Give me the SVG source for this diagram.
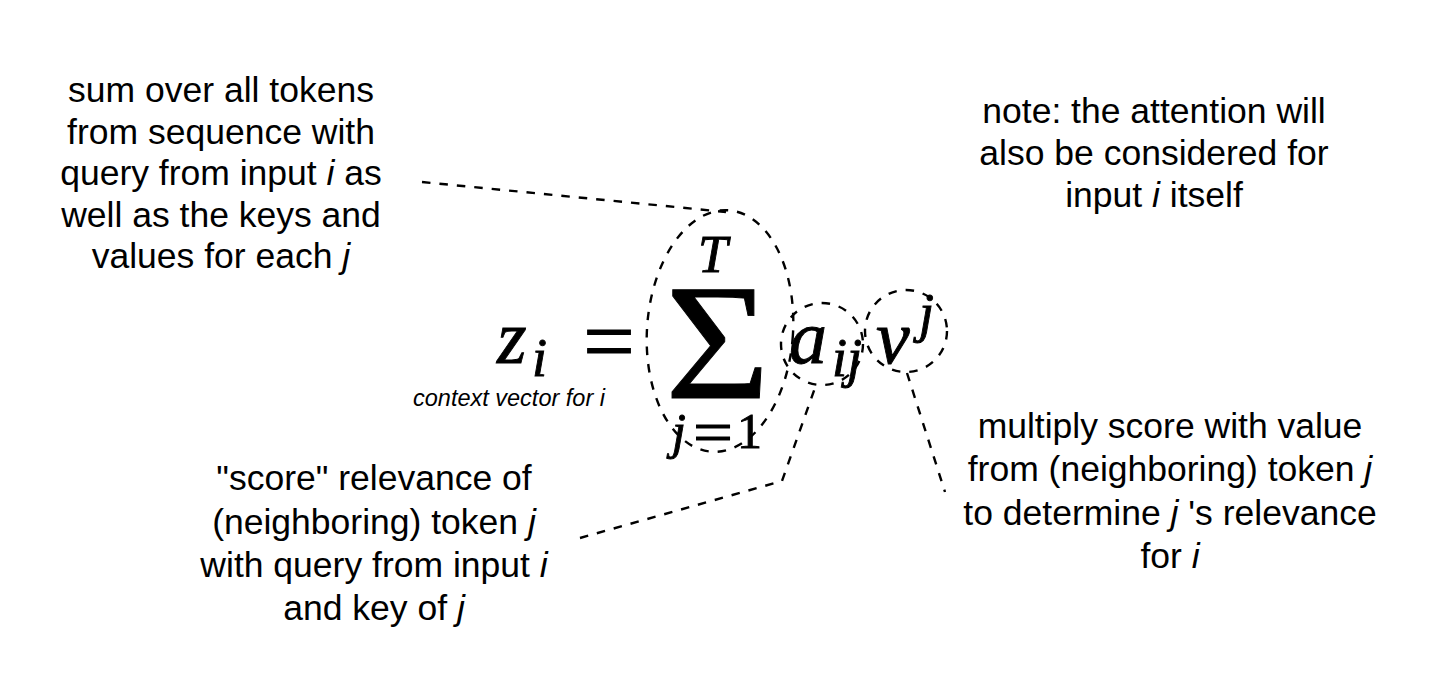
<svg xmlns="http://www.w3.org/2000/svg" width="1440" height="693" viewBox="0 0 1440 693">
<style>
.t{font-family:"Liberation Sans",Arial,Helvetica,sans-serif;font-size:35.5px;fill:#000;text-anchor:middle}
.it{font-style:italic}
.m{font-family:"Liberation Serif","Times New Roman",serif;fill:#000;stroke:#000;stroke-width:0.9}
.mi{font-family:"Liberation Serif","Times New Roman",serif;font-style:italic;fill:#000;stroke:#000;stroke-width:0.9}
.d{fill:none;stroke:#000;stroke-width:2.4;stroke-dasharray:8.5 9}
</style>
<rect width="1440" height="693" fill="#fff"/>
<g id="formula">
<text class="mi" x="497" y="363" font-size="76">z</text>
<text class="mi" x="532" y="376" font-size="54">i</text>
<text class="m" x="583" y="372" font-size="92" textLength="52" lengthAdjust="spacingAndGlyphs">=</text>
<text class="m" x="665" y="398" font-size="166" textLength="105" lengthAdjust="spacingAndGlyphs">Σ</text>
<text class="mi" x="698" y="272" font-size="53">T</text>
<text class="mi" x="672" y="448" font-size="50">j</text>
<text class="m" x="693" y="452" font-size="60" textLength="40" lengthAdjust="spacingAndGlyphs">=</text>
<text class="m" x="737" y="448" font-size="50">1</text>
<text class="mi" x="789" y="363" font-size="76">a</text>
<text class="mi" x="832" y="376" font-size="54">i</text>
<text class="mi" x="847" y="376" font-size="54">j</text>
<text class="mi" x="876" y="363" font-size="76">v</text>
<text class="mi" x="919" y="331" font-size="54">j</text>
<text class="t it" x="413" y="406" style="text-anchor:start;font-size:23.5px">context vector for i</text>
</g>
<g id="sum-ellipse"><ellipse class="d" cx="720" cy="331" rx="73" ry="121" transform="rotate(4 720 331)"/></g>
<g id="a-circle"><circle class="d" cx="822" cy="344" r="41"/></g>
<g id="v-circle"><circle class="d" cx="906" cy="331" r="41"/></g>
<g id="note-sum">
<text class="t" x="221" y="102">sum over all tokens</text>
<text class="t" x="221" y="144">from sequence with</text>
<text class="t" x="221" y="185">query from input <tspan class="it">i</tspan> as</text>
<text class="t" x="221" y="227">well as the keys and</text>
<text class="t" x="221" y="268">values for each <tspan class="it">j</tspan></text>
</g>
<g id="note-attention">
<text class="t" x="1154" y="123">note: the attention will</text>
<text class="t" x="1154" y="165">also be considered for</text>
<text class="t" x="1154" y="207">input <tspan class="it">i</tspan> itself</text>
</g>
<g id="note-score">
<text class="t" x="374" y="490">"score" relevance of</text>
<text class="t" x="374" y="534">(neighboring) token <tspan class="it">j</tspan></text>
<text class="t" x="374" y="577">with query from input <tspan class="it">i</tspan></text>
<text class="t" x="374" y="620">and key of <tspan class="it">j</tspan></text>
</g>
<g id="note-value">
<text class="t" x="1170" y="438">multiply score with value</text>
<text class="t" x="1170" y="481">from (neighboring) token <tspan class="it">j</tspan></text>
<text class="t" x="1170" y="525">to determine <tspan class="it">j</tspan> 's relevance</text>
<text class="t" x="1170" y="568">for <tspan class="it">i</tspan></text>
</g>
<g id="connectors">
<path class="d" d="M422,182 L726,212"/>
<path class="d" d="M580,538 L782,481 L816,385"/>
<path class="d" d="M907,373 L945,492"/>
</g>
</svg>
